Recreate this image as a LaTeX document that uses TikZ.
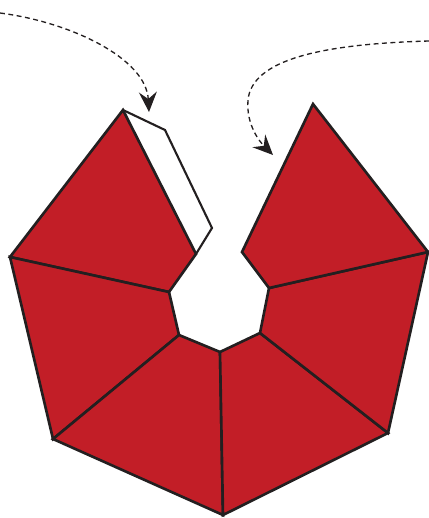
\documentclass[tikz,border=0pt]{standalone}
\usetikzlibrary{arrows.meta}
\definecolor{crimson}{RGB}{194,30,39}
\definecolor{ink}{RGB}{35,31,32}
\tikzset{
  >={Stealth[length=4mm,width=3.6mm,inset=1.4mm]},
  piece/.style={fill=crimson,draw=ink,line width=1.5pt,line join=miter},
  flap/.style={fill=white,draw=ink,line width=1.2pt,line join=miter},
  guide/.style={->,draw=ink,dash pattern=on 2.8pt off 2pt,line width=0.75pt},
}
\begin{document}
\begin{tikzpicture}[x=0.02cm,y=-0.02cm]
  \useasboundingbox (0,0) rectangle (429,518);
  % outer ring
  \coordinate (apexL) at (123,110);
  \coordinate (outL)  at (10,257);
  \coordinate (botL)  at (53,439);
  \coordinate (bot)   at (223,515);
  \coordinate (botR)  at (388,433);
  \coordinate (outR)  at (428,252);
  \coordinate (apexR) at (313,104);
  % inner ring
  \coordinate (inTL) at (196,254);
  \coordinate (inL)  at (169,292);
  \coordinate (inBL) at (179,335);
  \coordinate (inB)  at (220,352);
  \coordinate (inBR) at (260,333);
  \coordinate (inR)  at (269,288);
  \coordinate (inTR) at (242,252);
  % flap
  \coordinate (flapA) at (165,130);
  \coordinate (flapB) at (212,228);

  \draw[flap] (apexL) -- (flapA) -- (flapB) -- (inTL);
  \draw[piece] (apexL) -- (outL) -- (inL) -- (inTL) -- cycle;
  \draw[piece] (outL) -- (botL) -- (inBL) -- (inL) -- cycle;
  \draw[piece] (botL) -- (bot) -- (inB) -- (inBL) -- cycle;
  \draw[piece] (bot) -- (botR) -- (inBR) -- (inB) -- cycle;
  \draw[piece] (botR) -- (outR) -- (inR) -- (inBR) -- cycle;
  \draw[piece] (outR) -- (apexR) -- (inTR) -- (inR) -- cycle;

  % fold arrows
  \coordinate (startL) at (0,13);
  \coordinate (tipL) at (149,112);
  \coordinate (startR) at (429,41);
  \coordinate (bendR) at (248,100);
  \coordinate (tipR) at (273,155);
  \draw[guide] (startL) .. controls (70,22) and (146,58) .. (tipL);
  \draw[guide] (startR) .. controls (320,44) and (252,60) .. (bendR)
    .. controls (246,125) and (260,142) .. (tipR);
\end{tikzpicture}
\end{document}
